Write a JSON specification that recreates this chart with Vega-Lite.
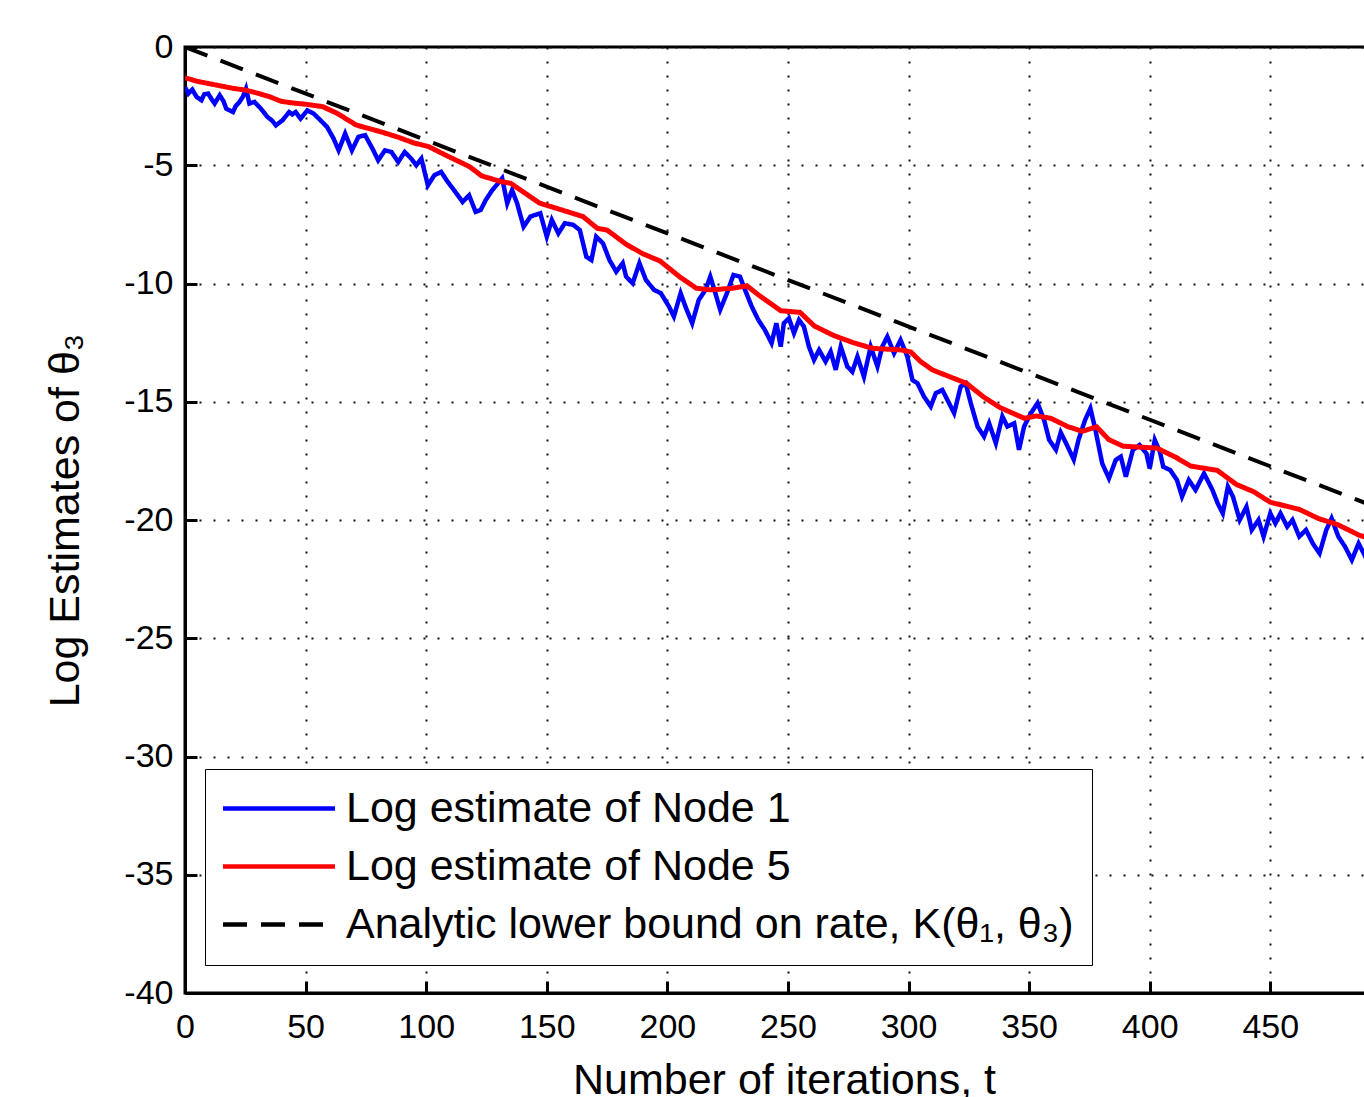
{
  "$schema": "https://vega.github.io/schema/vega-lite/v6.json",
  "width": 1183,
  "height": 946,
  "autosize": {"type": "none"},
  "padding": {"left": 185, "top": 47, "right": 0, "bottom": 104},
  "background": "white",
  "config": {
    "view": {"stroke": "black", "strokeWidth": 3},
    "font": "Liberation Sans",
    "axis": {
      "domainColor": "black", "domainWidth": 3,
      "tickColor": "black", "tickWidth": 3, "tickSize": -12,
      "labelFont": "Liberation Sans", "labelFontSize": 34, "labelColor": "black",
      "labelFlush": false, "labelOverlap": false,
      "gridColor": "#111111", "gridDash": [2, 12], "gridWidth": 2,
      "titleFont": "Liberation Sans", "titleFontSize": 43, "titleFontWeight": "normal", "titleColor": "black"
    }
  },
  "data": {"values": [
    {"t":0,"v":0,"s":"Bound"},{"t":500,"v":-19.7,"s":"Bound"},
    {"t":0,"v":-1.3,"s":"Node 5"},{"t":5,"v":-1.45,"s":"Node 5"},{"t":10,"v":-1.55,"s":"Node 5"},{"t":15,"v":-1.65,"s":"Node 5"},{"t":20,"v":-1.75,"s":"Node 5"},{"t":25,"v":-1.82,"s":"Node 5"},{"t":30,"v":-1.95,"s":"Node 5"},{"t":35,"v":-2.1,"s":"Node 5"},{"t":40,"v":-2.3,"s":"Node 5"},{"t":45,"v":-2.37,"s":"Node 5"},{"t":50,"v":-2.42,"s":"Node 5"},{"t":57,"v":-2.52,"s":"Node 5"},{"t":63,"v":-2.8,"s":"Node 5"},{"t":71,"v":-3.3,"s":"Node 5"},{"t":81,"v":-3.58,"s":"Node 5"},{"t":88,"v":-3.8,"s":"Node 5"},{"t":95,"v":-4.06,"s":"Node 5"},{"t":101,"v":-4.21,"s":"Node 5"},{"t":108,"v":-4.57,"s":"Node 5"},{"t":118,"v":-5.06,"s":"Node 5"},{"t":123,"v":-5.45,"s":"Node 5"},{"t":131,"v":-5.69,"s":"Node 5"},{"t":135,"v":-5.76,"s":"Node 5"},{"t":142,"v":-6.25,"s":"Node 5"},{"t":147,"v":-6.6,"s":"Node 5"},{"t":154,"v":-6.82,"s":"Node 5"},{"t":165,"v":-7.17,"s":"Node 5"},{"t":171,"v":-7.67,"s":"Node 5"},{"t":175,"v":-7.74,"s":"Node 5"},{"t":183,"v":-8.35,"s":"Node 5"},{"t":190,"v":-8.75,"s":"Node 5"},{"t":197,"v":-9.05,"s":"Node 5"},{"t":205,"v":-9.71,"s":"Node 5"},{"t":212,"v":-10.2,"s":"Node 5"},{"t":218,"v":-10.27,"s":"Node 5"},{"t":227,"v":-10.2,"s":"Node 5"},{"t":233,"v":-10.1,"s":"Node 5"},{"t":238,"v":-10.5,"s":"Node 5"},{"t":247,"v":-11.15,"s":"Node 5"},{"t":255,"v":-11.22,"s":"Node 5"},{"t":261,"v":-11.8,"s":"Node 5"},{"t":269,"v":-12.2,"s":"Node 5"},{"t":277,"v":-12.5,"s":"Node 5"},{"t":285,"v":-12.74,"s":"Node 5"},{"t":297,"v":-12.81,"s":"Node 5"},{"t":301,"v":-12.9,"s":"Node 5"},{"t":305,"v":-13.3,"s":"Node 5"},{"t":310,"v":-13.66,"s":"Node 5"},{"t":316,"v":-13.9,"s":"Node 5"},{"t":324,"v":-14.22,"s":"Node 5"},{"t":331,"v":-14.79,"s":"Node 5"},{"t":338,"v":-15.25,"s":"Node 5"},{"t":348,"v":-15.7,"s":"Node 5"},{"t":353,"v":-15.6,"s":"Node 5"},{"t":359,"v":-15.7,"s":"Node 5"},{"t":366,"v":-16.05,"s":"Node 5"},{"t":372,"v":-16.25,"s":"Node 5"},{"t":378,"v":-16.06,"s":"Node 5"},{"t":383,"v":-16.6,"s":"Node 5"},{"t":389,"v":-16.88,"s":"Node 5"},{"t":403,"v":-16.96,"s":"Node 5"},{"t":411,"v":-17.36,"s":"Node 5"},{"t":417,"v":-17.72,"s":"Node 5"},{"t":428,"v":-17.9,"s":"Node 5"},{"t":436,"v":-18.5,"s":"Node 5"},{"t":443,"v":-18.8,"s":"Node 5"},{"t":450,"v":-19.25,"s":"Node 5"},{"t":462,"v":-19.55,"s":"Node 5"},{"t":470,"v":-19.94,"s":"Node 5"},{"t":478,"v":-20.2,"s":"Node 5"},{"t":487,"v":-20.65,"s":"Node 5"},{"t":495,"v":-20.9,"s":"Node 5"},{"t":500,"v":-21.1,"s":"Node 5"},
    {"t":0,"v":-1.7,"s":"Node 1"},{"t":1.4,"v":-1.97,"s":"Node 1"},{"t":3,"v":-1.8,"s":"Node 1"},{"t":4.8,"v":-2.11,"s":"Node 1"},{"t":6.8,"v":-2.25,"s":"Node 1"},{"t":8,"v":-2.0,"s":"Node 1"},{"t":9.6,"v":-1.97,"s":"Node 1"},{"t":11,"v":-2.2,"s":"Node 1"},{"t":12.3,"v":-2.39,"s":"Node 1"},{"t":14.4,"v":-2.04,"s":"Node 1"},{"t":16,"v":-2.3,"s":"Node 1"},{"t":17.1,"v":-2.61,"s":"Node 1"},{"t":19.9,"v":-2.75,"s":"Node 1"},{"t":21,"v":-2.5,"s":"Node 1"},{"t":22.6,"v":-2.32,"s":"Node 1"},{"t":24,"v":-2.1,"s":"Node 1"},{"t":25.3,"v":-1.76,"s":"Node 1"},{"t":26.7,"v":-2.39,"s":"Node 1"},{"t":28.8,"v":-2.32,"s":"Node 1"},{"t":30,"v":-2.45,"s":"Node 1"},{"t":31.5,"v":-2.61,"s":"Node 1"},{"t":34.2,"v":-2.96,"s":"Node 1"},{"t":36,"v":-3.1,"s":"Node 1"},{"t":37.7,"v":-3.31,"s":"Node 1"},{"t":40.4,"v":-3.1,"s":"Node 1"},{"t":43.2,"v":-2.75,"s":"Node 1"},{"t":44.5,"v":-2.85,"s":"Node 1"},{"t":45.9,"v":-2.75,"s":"Node 1"},{"t":47.9,"v":-3.03,"s":"Node 1"},{"t":50.7,"v":-2.68,"s":"Node 1"},{"t":53.4,"v":-2.82,"s":"Node 1"},{"t":56.2,"v":-3.1,"s":"Node 1"},{"t":58.9,"v":-3.38,"s":"Node 1"},{"t":61.6,"v":-3.87,"s":"Node 1"},{"t":63.7,"v":-4.37,"s":"Node 1"},{"t":66.4,"v":-3.66,"s":"Node 1"},{"t":69.2,"v":-4.37,"s":"Node 1"},{"t":71.9,"v":-3.8,"s":"Node 1"},{"t":74.7,"v":-3.73,"s":"Node 1"},{"t":78.1,"v":-4.37,"s":"Node 1"},{"t":80.1,"v":-4.79,"s":"Node 1"},{"t":82.9,"v":-4.37,"s":"Node 1"},{"t":85.6,"v":-4.44,"s":"Node 1"},{"t":88.4,"v":-4.86,"s":"Node 1"},{"t":91.1,"v":-4.44,"s":"Node 1"},{"t":93.8,"v":-4.72,"s":"Node 1"},{"t":95.9,"v":-5.0,"s":"Node 1"},{"t":98,"v":-4.72,"s":"Node 1"},{"t":100.7,"v":-5.85,"s":"Node 1"},{"t":103.4,"v":-5.42,"s":"Node 1"},{"t":106.2,"v":-5.28,"s":"Node 1"},{"t":108.9,"v":-5.7,"s":"Node 1"},{"t":111.6,"v":-6.06,"s":"Node 1"},{"t":115.1,"v":-6.55,"s":"Node 1"},{"t":117.8,"v":-6.27,"s":"Node 1"},{"t":120.5,"v":-6.97,"s":"Node 1"},{"t":122.6,"v":-6.89,"s":"Node 1"},{"t":124.7,"v":-6.47,"s":"Node 1"},{"t":127.4,"v":-6.05,"s":"Node 1"},{"t":129.5,"v":-5.8,"s":"Node 1"},{"t":131.5,"v":-5.55,"s":"Node 1"},{"t":133.6,"v":-6.61,"s":"Node 1"},{"t":135.6,"v":-6.05,"s":"Node 1"},{"t":137.7,"v":-6.61,"s":"Node 1"},{"t":140.4,"v":-7.6,"s":"Node 1"},{"t":143.2,"v":-7.17,"s":"Node 1"},{"t":147.3,"v":-7.03,"s":"Node 1"},{"t":150,"v":-8.02,"s":"Node 1"},{"t":152.1,"v":-7.31,"s":"Node 1"},{"t":154.8,"v":-7.88,"s":"Node 1"},{"t":157.5,"v":-7.45,"s":"Node 1"},{"t":161,"v":-7.52,"s":"Node 1"},{"t":163.7,"v":-7.74,"s":"Node 1"},{"t":166.4,"v":-8.87,"s":"Node 1"},{"t":168.5,"v":-9.01,"s":"Node 1"},{"t":170.5,"v":-8.02,"s":"Node 1"},{"t":173.3,"v":-8.3,"s":"Node 1"},{"t":176,"v":-9.01,"s":"Node 1"},{"t":178.8,"v":-9.5,"s":"Node 1"},{"t":181.5,"v":-9.14,"s":"Node 1"},{"t":182.9,"v":-9.71,"s":"Node 1"},{"t":185.6,"v":-9.99,"s":"Node 1"},{"t":188.4,"v":-9.14,"s":"Node 1"},{"t":191.1,"v":-9.85,"s":"Node 1"},{"t":194.5,"v":-10.27,"s":"Node 1"},{"t":197.3,"v":-10.41,"s":"Node 1"},{"t":200.7,"v":-10.98,"s":"Node 1"},{"t":202.7,"v":-11.4,"s":"Node 1"},{"t":205.5,"v":-10.41,"s":"Node 1"},{"t":207.5,"v":-10.98,"s":"Node 1"},{"t":210.3,"v":-11.68,"s":"Node 1"},{"t":213,"v":-10.7,"s":"Node 1"},{"t":215.8,"v":-10.27,"s":"Node 1"},{"t":217.8,"v":-9.71,"s":"Node 1"},{"t":219.9,"v":-10.41,"s":"Node 1"},{"t":221.9,"v":-11.11,"s":"Node 1"},{"t":224.7,"v":-10.41,"s":"Node 1"},{"t":227.4,"v":-9.64,"s":"Node 1"},{"t":230.1,"v":-9.71,"s":"Node 1"},{"t":232.2,"v":-10.27,"s":"Node 1"},{"t":235,"v":-10.98,"s":"Node 1"},{"t":237.7,"v":-11.54,"s":"Node 1"},{"t":240.4,"v":-11.96,"s":"Node 1"},{"t":243.2,"v":-12.52,"s":"Node 1"},{"t":245.2,"v":-11.68,"s":"Node 1"},{"t":247,"v":-12.67,"s":"Node 1"},{"t":248.3,"v":-11.68,"s":"Node 1"},{"t":250.4,"v":-11.47,"s":"Node 1"},{"t":252.5,"v":-12.1,"s":"Node 1"},{"t":254.6,"v":-11.54,"s":"Node 1"},{"t":256.6,"v":-11.82,"s":"Node 1"},{"t":258.7,"v":-12.67,"s":"Node 1"},{"t":260.8,"v":-13.23,"s":"Node 1"},{"t":262.9,"v":-12.81,"s":"Node 1"},{"t":265.6,"v":-13.3,"s":"Node 1"},{"t":267.7,"v":-12.88,"s":"Node 1"},{"t":269.8,"v":-13.65,"s":"Node 1"},{"t":271.9,"v":-12.67,"s":"Node 1"},{"t":274.6,"v":-13.51,"s":"Node 1"},{"t":276.7,"v":-13.73,"s":"Node 1"},{"t":278.8,"v":-13.09,"s":"Node 1"},{"t":281.5,"v":-13.94,"s":"Node 1"},{"t":284.3,"v":-12.67,"s":"Node 1"},{"t":287.1,"v":-13.51,"s":"Node 1"},{"t":289.1,"v":-12.67,"s":"Node 1"},{"t":291.2,"v":-12.25,"s":"Node 1"},{"t":294,"v":-12.95,"s":"Node 1"},{"t":296.7,"v":-12.39,"s":"Node 1"},{"t":299.5,"v":-13.09,"s":"Node 1"},{"t":301.6,"v":-14.08,"s":"Node 1"},{"t":303.7,"v":-14.22,"s":"Node 1"},{"t":306.4,"v":-14.78,"s":"Node 1"},{"t":309.2,"v":-15.2,"s":"Node 1"},{"t":311.3,"v":-14.64,"s":"Node 1"},{"t":314,"v":-14.5,"s":"Node 1"},{"t":316.1,"v":-14.92,"s":"Node 1"},{"t":318.9,"v":-15.48,"s":"Node 1"},{"t":321.6,"v":-14.36,"s":"Node 1"},{"t":323.7,"v":-14.22,"s":"Node 1"},{"t":325.8,"v":-15.06,"s":"Node 1"},{"t":328.6,"v":-16.05,"s":"Node 1"},{"t":331.3,"v":-16.47,"s":"Node 1"},{"t":333.4,"v":-15.91,"s":"Node 1"},{"t":336.2,"v":-16.75,"s":"Node 1"},{"t":338.9,"v":-15.62,"s":"Node 1"},{"t":341,"v":-16.05,"s":"Node 1"},{"t":343.8,"v":-15.91,"s":"Node 1"},{"t":345.8,"v":-17.03,"s":"Node 1"},{"t":347.9,"v":-16.05,"s":"Node 1"},{"t":350.7,"v":-15.49,"s":"Node 1"},{"t":353.5,"v":-15.06,"s":"Node 1"},{"t":356.2,"v":-15.77,"s":"Node 1"},{"t":358.3,"v":-16.61,"s":"Node 1"},{"t":361.1,"v":-17.03,"s":"Node 1"},{"t":363.1,"v":-16.3,"s":"Node 1"},{"t":366,"v":-16.9,"s":"Node 1"},{"t":368.5,"v":-17.45,"s":"Node 1"},{"t":370.5,"v":-16.6,"s":"Node 1"},{"t":373.2,"v":-15.77,"s":"Node 1"},{"t":375.4,"v":-15.28,"s":"Node 1"},{"t":377.5,"v":-16.2,"s":"Node 1"},{"t":380.3,"v":-17.61,"s":"Node 1"},{"t":383.1,"v":-18.24,"s":"Node 1"},{"t":385.9,"v":-17.46,"s":"Node 1"},{"t":388,"v":-17.32,"s":"Node 1"},{"t":390.1,"v":-18.17,"s":"Node 1"},{"t":393,"v":-17.04,"s":"Node 1"},{"t":395.8,"v":-16.83,"s":"Node 1"},{"t":398.6,"v":-17.18,"s":"Node 1"},{"t":400,"v":-17.82,"s":"Node 1"},{"t":402.1,"v":-16.62,"s":"Node 1"},{"t":404.2,"v":-17.11,"s":"Node 1"},{"t":405.6,"v":-17.75,"s":"Node 1"},{"t":408.5,"v":-17.89,"s":"Node 1"},{"t":411.3,"v":-18.31,"s":"Node 1"},{"t":413.4,"v":-19.01,"s":"Node 1"},{"t":416.2,"v":-18.31,"s":"Node 1"},{"t":419,"v":-18.73,"s":"Node 1"},{"t":422.5,"v":-18.03,"s":"Node 1"},{"t":426,"v":-18.73,"s":"Node 1"},{"t":428.2,"v":-19.3,"s":"Node 1"},{"t":430.3,"v":-19.72,"s":"Node 1"},{"t":432.4,"v":-18.59,"s":"Node 1"},{"t":434.5,"v":-19.01,"s":"Node 1"},{"t":437.3,"v":-20.0,"s":"Node 1"},{"t":440.1,"v":-19.44,"s":"Node 1"},{"t":442.3,"v":-20.42,"s":"Node 1"},{"t":445.1,"v":-20.0,"s":"Node 1"},{"t":447.2,"v":-20.7,"s":"Node 1"},{"t":450,"v":-19.72,"s":"Node 1"},{"t":452.1,"v":-20.14,"s":"Node 1"},{"t":454.2,"v":-19.72,"s":"Node 1"},{"t":457,"v":-20.28,"s":"Node 1"},{"t":459.2,"v":-20.0,"s":"Node 1"},{"t":462,"v":-20.7,"s":"Node 1"},{"t":464.8,"v":-20.42,"s":"Node 1"},{"t":467.6,"v":-20.99,"s":"Node 1"},{"t":470.4,"v":-21.41,"s":"Node 1"},{"t":473.2,"v":-20.42,"s":"Node 1"},{"t":475.4,"v":-19.93,"s":"Node 1"},{"t":478.2,"v":-20.7,"s":"Node 1"},{"t":481,"v":-21.13,"s":"Node 1"},{"t":483.8,"v":-21.69,"s":"Node 1"},{"t":486.6,"v":-20.99,"s":"Node 1"},{"t":489.4,"v":-21.55,"s":"Node 1"},{"t":492,"v":-21.2,"s":"Node 1"}
  ]},
  "encoding": {
    "x": {"field": "t", "type": "quantitative",
      "scale": {"domain": [0, 490.5], "nice": false, "zero": false},
      "axis": {"values": [0, 50, 100, 150, 200, 250, 300, 350, 400, 450], "labelPadding": 29, "grid": true,
        "title": "Number of iterations, t", "titleX": 599, "titleY": 100, "titleBaseline": "alphabetic"}},
    "y": {"field": "v", "type": "quantitative",
      "scale": {"domain": [-40, 0], "nice": false, "zero": false},
      "axis": {"values": [0, -5, -10, -15, -20, -25, -30, -35, -40], "labelPadding": 24, "grid": true,
        "labelExpr": "'' + datum.value",
        "title": "Log Estimates of θ₃", "titleX": -107, "titleY": 473, "titleBaseline": "alphabetic", "titleAngle": 270}},
    "color": {"field": "s", "type": "nominal",
      "scale": {"domain": ["Node 1", "Node 5", "Bound"], "range": ["#0000ff", "#ff0000", "#000000"]},
      "legend": {"title": null, "orient": "none", "legendX": 20, "legendY": 722, "direction": "vertical",
        "strokeColor": "black", "fillColor": "white", "padding": 18, "rowPadding": 14,
        "labelFont": "Liberation Sans", "labelFontSize": 43, "labelColor": "black", "labelLimit": 0, "labelOffset": 80,
        "symbolType": "M-1.92,0H8.08", "symbolSize": 502, "symbolStrokeWidth": 4.5,
        "labelExpr": "datum.label == 'Node 1' ? 'Log estimate of Node 1' : datum.label == 'Node 5' ? 'Log estimate of Node 5' : 'Analytic lower bound on rate, K(θ₁, θ₃)'"}},
    "strokeDash": {"field": "s", "type": "nominal",
      "scale": {"domain": ["Node 1", "Node 5", "Bound"], "range": [[1, 0], [1, 0], [24, 14]]},
      "legend": {"title": null, "orient": "none", "legendX": 20, "legendY": 722, "direction": "vertical",
        "strokeColor": "black", "fillColor": "white", "padding": 18, "rowPadding": 14,
        "labelFont": "Liberation Sans", "labelFontSize": 43, "labelColor": "black", "labelLimit": 0, "labelOffset": 80,
        "symbolType": "M-1.92,0H8.08", "symbolSize": 502, "symbolStrokeWidth": 4.5,
        "labelExpr": "datum.label == 'Node 1' ? 'Log estimate of Node 1' : datum.label == 'Node 5' ? 'Log estimate of Node 5' : 'Analytic lower bound on rate, K(θ₁, θ₃)'"}}
  },
  "layer": [
    {"transform": [{"filter": "datum.s == 'Node 1'"}], "mark": {"type": "line", "strokeWidth": 4.5, "clip": true}},
    {"transform": [{"filter": "datum.s == 'Node 5'"}], "mark": {"type": "line", "strokeWidth": 5, "clip": true}},
    {"transform": [{"filter": "datum.s == 'Bound'"}], "mark": {"type": "line", "strokeWidth": 4, "clip": true}}
  ]
}
